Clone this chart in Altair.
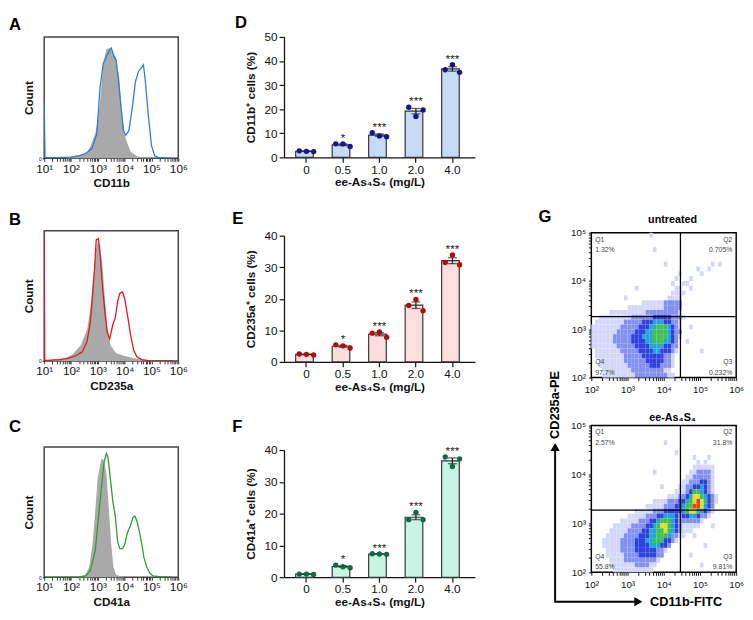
import altair as alt
import numpy as np
import pandas as pd

FONT = "Liberation Sans"

# ---------------- A-C : flow histograms (x = log10 intensity, y = % of max count) ----------------
A_GRAY_X = [1.8, 2.1, 2.4, 2.6, 2.72, 2.9, 3.0, 3.08, 3.2, 3.32, 3.44, 3.56, 3.68, 3.8, 3.92, 4.04, 4.22, 4.46, 4.7, 5.0]
A_GRAY_Y = [0, 2, 3, 5, 10, 20, 32, 46, 78, 90, 91, 87, 83, 66, 33, 16, 5.5, 1.8, 0.5, 0]
A_LINE_X = [1.0, 1.03, 1.5, 2.0, 2.3, 2.54, 2.78, 2.96, 3.08, 3.2, 3.32, 3.44, 3.5, 3.6, 3.68, 3.76, 3.86, 3.95,
            4.04, 4.16, 4.28, 4.4, 4.52, 4.64, 4.7, 4.76, 4.88, 5.0, 5.12, 5.3, 5.8]
A_LINE_Y = [46, 0.5, 0.5, 1, 2, 4, 8, 20, 58, 78, 84, 89, 91, 84, 81, 66, 43, 23, 19, 23, 41, 63, 72, 75, 77, 66,
            36, 10.6, 2, 0.5, 0]

B_GRAY_X = [1.3, 1.76, 2.06, 2.36, 2.6, 2.72, 2.84, 2.92, 2.99, 3.08, 3.16, 3.26, 3.35, 3.47, 3.68, 3.98, 4.34, 4.7, 5.2]
B_GRAY_Y = [1, 2, 5, 12, 24, 40, 66, 84, 91, 89, 76, 49, 27, 12, 6, 4, 2, 1, 0]
B_LINE_X = [1.0, 1.02, 1.1, 1.58, 1.88, 2.18, 2.42, 2.6, 2.72, 2.8, 2.88, 2.94, 3.02, 3.09, 3.17, 3.26, 3.35, 3.44,
            3.56, 3.65, 3.74, 3.82, 3.92, 4.0, 4.1, 4.22, 4.34, 4.46, 4.64, 4.94, 5.8]
B_LINE_Y = [100, 0.5, 0.5, 1, 2, 4, 7, 15, 30, 50, 72, 93, 94, 80, 58, 38, 22, 17, 28, 33, 46, 52, 53, 48, 36, 20,
            8, 3, 1, 0, 0]

C_GRAY_X = [2.3, 2.54, 2.68, 2.8, 2.9, 2.99, 3.08, 3.14, 3.22, 3.32, 3.4, 3.5, 3.58, 3.68, 3.86, 4.0]
C_GRAY_Y = [0.5, 2, 8, 25, 50, 75, 86, 91, 90, 80, 55, 25, 8, 2, 0.5, 0]
C_LINE_X = [1.0, 2.3, 2.54, 2.72, 2.9, 3.02, 3.14, 3.23, 3.32, 3.38, 3.47, 3.56, 3.65, 3.74, 3.82, 3.92, 4.0, 4.1,
            4.22, 4.31, 4.38, 4.46, 4.55, 4.64, 4.72, 4.82, 4.94, 5.06, 5.3, 5.8]
C_LINE_Y = [0, 0, 1, 5, 20, 45, 70, 88, 95, 92, 75, 58, 47, 27, 22, 22, 25, 34, 40, 46, 47, 43, 35, 25, 15, 8, 3,
            1, 0.5, 0]

# ---------------- D-F : bar charts (three replicates per dose) ----------------
DOSES = ["0", "0.5", "1.0", "2.0", "4.0"]
STARS = ["", "*", "***", "***", "***"]
D_VALS = [[2.7, 2.5, 2.4], [5.6, 5.6, 4.5], [10.2, 8.9, 8.6], [20.8, 17.0, 19.7], [36.4, 38.5, 35.3]]
E_VALS = [[2.5, 2.4, 2.2], [5.4, 5.1, 4.4], [9.1, 9.5, 7.8], [17.9, 19.8, 16.2], [31.5, 33.9, 30.8]]
F_VALS = [[1.0, 1.0, 0.9], [3.8, 3.3, 3.0], [7.4, 7.3, 7.2], [18.1, 20.4, 18.1], [37.8, 34.8, 37.2]]

# ---------------- G : density plots, runs of 0.1-decade cells: row -> (col_start, col_end, level) ----------------
QUADS = ["Q1", "Q2", "Q3", "Q4"]
UNT_PCT = ["1.32%", "0.705%", "0.232%", "97.7%"]
TRT_PCT = ["2.57%", "31.8%", "9.81%", "55.8%"]
GATE_X = 4.46
GATE_Y_UNT = 3.26
GATE_Y_TRT = 3.27
LEVEL_COLORS = ["#d3d8f8", "#8391ee", "#2f3fe0", "#22a3d9", "#3cc14e", "#e2df2c", "#e8431e"]

UNT_RUNS = {
    0: [(16, 16, 1)],
    3: [(17, 17, 1)],
    6: [(20, 20, 1), (33, 33, 1), (35, 35, 1)],
    7: [(29, 29, 1), (32, 32, 1)],
    8: [(24, 24, 1), (30, 30, 1)],
    9: [(23, 23, 1), (27, 27, 1)],
    10: [(22, 22, 1), (25, 26, 1)],
    11: [(12, 12, 1), (23, 24, 1), (27, 27, 1)],
    12: [(22, 25, 1)],
    13: [(9, 9, 1), (21, 24, 1)],
    14: [(14, 19, 1), (20, 24, 2)],
    15: [(10, 19, 1), (20, 24, 2)],
    16: [(5, 14, 1), (15, 23, 2), (24, 24, 1)],
    17: [(2, 10, 1), (11, 16, 2), (17, 21, 3), (22, 24, 2), (25, 25, 1)],
    18: [(1, 8, 1), (9, 13, 2), (14, 16, 3), (17, 19, 4), (20, 21, 3), (22, 23, 2), (24, 24, 1)],
    19: [(0, 7, 1), (8, 12, 2), (13, 15, 3), (16, 17, 4), (18, 20, 5), (21, 21, 4), (22, 22, 3), (23, 23, 2),
         (24, 24, 1), (27, 27, 1)],
    20: [(0, 6, 1), (7, 11, 2), (12, 14, 3), (15, 16, 4), (17, 20, 5), (21, 21, 4), (22, 22, 3), (23, 24, 2)],
    21: [(0, 5, 1), (6, 10, 2), (11, 13, 3), (14, 16, 4), (17, 20, 5), (21, 21, 4), (22, 22, 3), (23, 23, 2),
         (24, 24, 1)],
    22: [(0, 5, 1), (6, 10, 2), (11, 14, 3), (15, 16, 4), (17, 19, 5), (20, 21, 4), (22, 22, 3), (23, 23, 2),
         (26, 26, 1)],
    23: [(0, 6, 1), (7, 11, 2), (12, 15, 3), (16, 19, 4), (20, 21, 3), (22, 23, 2)],
    24: [(1, 7, 1), (8, 12, 2), (13, 16, 3), (17, 18, 4), (19, 21, 3), (22, 22, 2), (23, 23, 1), (30, 30, 1)],
    25: [(1, 8, 1), (9, 13, 2), (14, 19, 3), (20, 21, 2), (22, 22, 1)],
    26: [(2, 8, 1), (9, 14, 2), (15, 19, 3), (20, 21, 2), (22, 22, 1)],
    27: [(2, 9, 1), (10, 15, 2), (16, 18, 3), (19, 21, 2), (22, 22, 1)],
    28: [(3, 10, 1), (11, 19, 2), (20, 21, 1)],
    29: [(3, 11, 1), (12, 20, 2), (21, 22, 1)],
}

TRT_RUNS = {
    3: [(20, 20, 1)],
    5: [(23, 23, 1)],
    6: [(28, 28, 1), (32, 32, 1)],
    7: [(29, 29, 1), (31, 31, 1)],
    8: [(28, 33, 1)],
    9: [(17, 17, 1), (27, 28, 1), (29, 32, 2), (33, 33, 1)],
    10: [(26, 27, 1), (28, 32, 2), (33, 33, 1)],
    11: [(25, 26, 1), (27, 29, 2), (30, 31, 3), (32, 32, 2), (33, 33, 1)],
    12: [(19, 19, 1), (24, 25, 1), (26, 27, 2), (28, 29, 3), (30, 30, 4), (31, 31, 3), (32, 32, 2), (33, 33, 1)],
    13: [(23, 25, 1), (26, 26, 2), (27, 27, 3), (28, 29, 5), (30, 30, 4), (31, 31, 3), (32, 32, 2), (33, 33, 1)],
    14: [(21, 23, 1), (24, 25, 2), (26, 26, 3), (27, 27, 4), (28, 29, 6), (30, 30, 5), (31, 31, 4), (32, 32, 3),
         (33, 33, 2), (34, 34, 1)],
    15: [(17, 20, 1), (21, 23, 2), (24, 25, 3), (26, 26, 4), (27, 27, 5), (28, 28, 6), (29, 29, 7), (30, 30, 6),
         (31, 31, 5), (32, 32, 3), (33, 33, 2), (34, 34, 1)],
    16: [(15, 19, 1), (20, 22, 2), (23, 24, 3), (25, 25, 4), (26, 27, 5), (28, 29, 7), (30, 30, 6), (31, 31, 4),
         (32, 32, 3), (33, 33, 2)],
    17: [(12, 16, 1), (17, 19, 2), (20, 24, 3), (25, 25, 4), (26, 26, 5), (27, 28, 6), (29, 29, 5), (30, 30, 4),
         (31, 31, 3), (32, 32, 2), (33, 33, 1)],
    18: [(10, 14, 1), (15, 17, 2), (18, 19, 3), (20, 22, 4), (23, 23, 3), (24, 24, 2), (25, 26, 3), (27, 28, 4),
         (29, 29, 3), (30, 31, 2), (32, 32, 1)],
    19: [(8, 12, 1), (13, 15, 2), (16, 17, 3), (18, 18, 4), (19, 21, 5), (22, 22, 4), (23, 23, 3), (24, 29, 2),
         (30, 30, 1)],
    20: [(6, 10, 1), (11, 14, 2), (15, 16, 3), (17, 17, 4), (18, 18, 5), (19, 20, 6), (21, 21, 5), (22, 22, 4),
         (23, 23, 3), (24, 24, 2), (25, 29, 1), (33, 33, 1)],
    21: [(5, 9, 1), (10, 13, 2), (14, 15, 3), (16, 17, 4), (18, 19, 5), (20, 20, 6), (21, 21, 5), (22, 22, 4),
         (23, 23, 3), (24, 24, 2), (25, 27, 1)],
    22: [(4, 8, 1), (9, 12, 2), (13, 15, 3), (16, 17, 4), (18, 20, 5), (21, 21, 4), (22, 23, 2), (24, 25, 1),
         (28, 28, 1)],
    23: [(3, 7, 1), (8, 11, 2), (12, 14, 3), (15, 16, 4), (17, 19, 5), (20, 21, 3), (22, 22, 2), (23, 23, 1)],
    24: [(3, 7, 1), (8, 11, 2), (12, 15, 3), (16, 18, 4), (19, 20, 3), (21, 21, 2), (31, 31, 1)],
    25: [(4, 7, 1), (8, 11, 2), (12, 17, 3), (18, 19, 2), (20, 20, 1)],
    26: [(4, 8, 1), (9, 12, 2), (13, 17, 3), (18, 19, 2), (27, 27, 1)],
    27: [(5, 8, 1), (9, 17, 2), (18, 18, 1)],
    28: [(5, 11, 1), (12, 15, 2), (16, 17, 1), (30, 30, 1)],
    29: [(6, 16, 1)],
}

SUP = {0: "\u2070", 1: "\u00b9", 2: "\u00b2", 3: "\u00b3", 4: "\u2074", 5: "\u2075", 6: "\u2076"}

one = pd.DataFrame({"k": [0]})


def log_ticks(lo, hi):
    vals = [float(d) for d in range(lo, hi + 1)]
    vals += [d + float(np.log10(k)) for d in range(lo, hi) for k in range(2, 10)]
    return sorted(vals)


def log_label_expr(lo, hi):
    parts = [f"datum.value === {k} ? '10{SUP[k]}'" for k in range(lo, hi + 1)]
    return " : ".join(parts) + " : ''"


def label_mark(text, dx, dy, size=17, align="left", angle=0):
    return alt.Chart(one).mark_text(text=text, fontSize=size, fontWeight="bold", align=align,
                                    baseline="middle", angle=angle, color="black").encode(
        x=alt.value(dx), y=alt.value(dy))


def histogram(letter, ldy, gx, gy, lx, ly, color, xtitle, height):
    gray = pd.DataFrame({"x": gx, "y": gy})
    line = pd.DataFrame({"x": lx, "y": ly})
    xs = alt.Scale(domain=[1, 6], nice=False, zero=False)
    ys = alt.Scale(domain=[0, 100], nice=False)
    xaxis = alt.Axis(values=log_ticks(1, 6), labelExpr=log_label_expr(1, 6), domain=False, labelOverlap=False,
                     tickSize=3, tickColor="#333", labelFontSize=12, labelPadding=2, labelFlush=False,
                     titleFontSize=12, titleFontWeight="bold", titlePadding=4)
    yaxis = alt.Axis(values=[0], labelExpr="'0'", domain=False, tickSize=2, labelOverlap=False,
                     labelFontSize=5, labelPadding=1, titleFontSize=12, titleFontWeight="bold", titlePadding=3)
    area = alt.Chart(gray).mark_area(color="#a9a9a9", interpolate="linear").encode(
        x=alt.X("x:Q", scale=xs, axis=xaxis, title=xtitle), y=alt.Y("y:Q", scale=ys, axis=yaxis, title="Count"))
    ln = alt.Chart(line).mark_line(color=color, strokeWidth=1.3, clip=True, interpolate="linear").encode(
        x=alt.X("x:Q", scale=xs, axis=xaxis, title=xtitle), y=alt.Y("y:Q", scale=ys, axis=yaxis, title="Count"))
    return alt.layer(area, ln, label_mark(letter, -36, ldy)).properties(
        width=137, height=height, view=alt.ViewBackground(stroke="#444", strokeWidth=1.5))


XT = "ee-As\u2084S\u2084 (mg/L)"


def bar_panel(letter, ldx, ldy, values, fill, pcolor, ytitle, ymax, height):
    rows = []
    for d, vals, star in zip(DOSES, values, STARS):
        for i, v in enumerate(vals):
            rows.append({"dose": d, "rep": i, "value": v, "stars": star})
    df = pd.DataFrame(rows)
    base = alt.Chart(df)
    xsc = alt.Scale(paddingInner=0.41, paddingOuter=0.32)
    xax = alt.Axis(labelAngle=0, labelFontSize=12, titleFontSize=12, titleFontWeight="bold", tickSize=5,
                   labelPadding=2, titlePadding=2, domainWidth=1.3, tickWidth=1.2)
    ysc = alt.Scale(domain=[0, ymax], nice=False)
    yax = alt.Axis(values=list(range(0, ymax + 1, 10)), labelFontSize=12, titleFontSize=12, labelOverlap=False,
                   titleFontWeight="bold", tickSize=5, labelPadding=2, titlePadding=7, domainWidth=1.3,
                   tickWidth=1.2)

    def X():
        return alt.X("dose:N", sort=DOSES, scale=xsc, axis=xax, title=XT)

    def Y(field):
        return alt.Y(field, scale=ysc, axis=yax, title=ytitle)

    bars = base.mark_bar(fill=fill, stroke="#333", strokeWidth=1.2).encode(x=X(), y=Y("mean(value):Q"))
    err = base.mark_errorbar(extent="stderr", ticks={"size": 9}, color="#222", thickness=1.3).encode(
        x=X(), y=Y("value:Q"))
    pts = base.mark_circle(size=30, color=pcolor, opacity=1).encode(x=X(), xOffset="rep:N", y=Y("value:Q"))
    stars = base.transform_aggregate(vmax="max(value)", groupby=["dose", "stars"]).mark_text(
        fontSize=12, baseline="alphabetic", dy=-2, color="#222").encode(x=X(), y=Y("vmax:Q"), text="stars:N")
    return alt.layer(bars, err, pts, stars, label_mark(letter, ldx, ldy)).properties(width=195, height=height)


def cells_from(runs):
    rows = []
    for r, segs in runs.items():
        for c0, c1, lvl in segs:
            for c in range(c0, c1 + 1):
                rows.append({"x0": 2 + c / 10, "x1": 2 + (c + 1) / 10,
                             "y0": 5 - (r + 1) / 10, "y1": 5 - r / 10, "lvl": lvl})
    return pd.DataFrame(rows)


def flow_panel(runs, pcts, gate_y, title_text, title_dy, h, extra):
    xs = alt.Scale(domain=[2, 6], nice=False, zero=False)
    ys = alt.Scale(domain=[2, 5], nice=False, zero=False)
    xaxis = alt.Axis(values=log_ticks(2, 6), labelExpr=log_label_expr(2, 6), domain=False, labelOverlap=False,
                     tickSize=3, labelFontSize=10, labelPadding=4, labelFlush=False)
    yaxis = alt.Axis(values=log_ticks(2, 5), labelExpr=log_label_expr(2, 5), domain=False, labelOverlap=False,
                     tickSize=3, labelFontSize=10, labelPadding=3, labelFlush=False)
    rect = alt.Chart(cells_from(runs)).mark_rect().encode(
        x=alt.X("x0:Q", scale=xs, axis=xaxis, title=None), x2="x1:Q",
        y=alt.Y("y0:Q", scale=ys, axis=yaxis, title=None), y2="y1:Q",
        color=alt.Color("lvl:O", scale=alt.Scale(domain=[1, 2, 3, 4, 5, 6, 7], range=LEVEL_COLORS), legend=None))
    vline = alt.Chart(pd.DataFrame({"x0": [GATE_X]})).mark_rule(color="black", strokeWidth=1.3).encode(
        x=alt.X("x0:Q", scale=xs, axis=xaxis, title=None))
    hline = alt.Chart(pd.DataFrame({"y0": [gate_y]})).mark_rule(color="black", strokeWidth=1.3).encode(
        y=alt.Y("y0:Q", scale=ys, axis=yaxis, title=None))
    qdf = pd.DataFrame({"q": QUADS, "pct": pcts})
    spots = {"Q1": (4, 7, 18, "left"), "Q2": (144, 7, 18, "right"),
             "Q3": (144, h - 16, h - 5, "right"), "Q4": (4, h - 16, h - 5, "left")}
    layers = [rect, vline, hline]
    for q, (px, py1, py2, al) in spots.items():
        b = alt.Chart(qdf).transform_filter(alt.datum.q == q)
        layers.append(b.mark_text(align=al, baseline="middle", fontSize=7, color="#444").encode(
            x=alt.value(px), y=alt.value(py1), text="q:N"))
        layers.append(b.mark_text(align=al, baseline="middle", fontSize=7, color="#444").encode(
            x=alt.value(px), y=alt.value(py2), text="pct:N"))
    layers.append(label_mark(title_text, 83, title_dy, size=11, align="center"))
    layers += extra
    return alt.layer(*layers).properties(
        width=148, height=h, view=alt.ViewBackground(stroke="black", strokeWidth=1.5))


def spacer(h, w=10):
    return alt.Chart(one).mark_point(opacity=0).encode(
        x=alt.X("k:Q", axis=None), y=alt.Y("k:Q", axis=None)).properties(width=w, height=h)


arrow_parts = [
    alt.Chart(one).mark_rule(color="black", strokeWidth=2).encode(
        x=alt.value(-37), y=alt.value(180), y2=alt.value(22)),
    alt.Chart(one).mark_rule(color="black", strokeWidth=2).encode(
        x=alt.value(-38), x2=alt.value(46), y=alt.value(180)),
    alt.Chart(one).mark_point(shape="triangle-up", filled=True, size=90, color="black", opacity=1).encode(
        x=alt.value(-37), y=alt.value(22)),
    alt.Chart(one).mark_point(shape="triangle-right", filled=True, size=90, color="black", opacity=1).encode(
        x=alt.value(48), y=alt.value(180)),
    label_mark("CD11b-FITC", 60, 180, size=13),
    label_mark("CD235a-PE", -37, -21, size=13, align="center", angle=270),
]

A = histogram("A", -12, A_GRAY_X, A_GRAY_Y, A_LINE_X, A_LINE_Y, "#2a7fd4", "CD11b", 124)
B = histogram("B", -10.5, B_GRAY_X, B_GRAY_Y, B_LINE_X, B_LINE_Y, "#e8141e", "CD235a", 133)
C = histogram("C", -20, C_GRAY_X, C_GRAY_Y, C_LINE_X, C_LINE_Y, "#2e9a36", "CD41a", 133)

D = bar_panel("D", -50, -14, D_VALS, "#c6dbf5", "#14148c", "CD11b\u207a cells (%)", 50, 123)
E = bar_panel("E", -53, -17, E_VALS, "#fcdede", "#b40a0a", "CD235a\u207a cells (%)", 40, 129)
F = bar_panel("F", -53, -23, F_VALS, "#c8f5e3", "#0d6b45", "CD41a\u207a cells (%)", 40, 130)

G1 = flow_panel(UNT_RUNS, UNT_PCT, GATE_Y_UNT, "untreated", -13, 148, [label_mark("G", -54, -16)])
G2 = flow_panel(TRT_RUNS, TRT_PCT, GATE_Y_TRT, "ee-As\u2084S\u2084", -8, 150, arrow_parts)

col1 = alt.vconcat(A, spacer(74), B, spacer(88), C, spacing=0, bounds="flush")
col2 = alt.vconcat(D, spacer(80), E, spacer(90), F, spacing=0, bounds="flush")
col3 = alt.vconcat(spacer(200), G1, spacer(49), G2, spacing=0, bounds="flush")

chart = alt.hconcat(alt.hconcat(col1, col2, spacing=45), col3, spacing=64)
chart = chart.properties(padding=0).configure_view(stroke=None).configure_axis(
    labelFont=FONT, titleFont=FONT, labelColor="#111", titleColor="#111", domainColor="#111",
    tickColor="#111", grid=False).configure_text(font=FONT)

chart.save("out.html", embed_options={"renderer": "svg", "actions": False})
